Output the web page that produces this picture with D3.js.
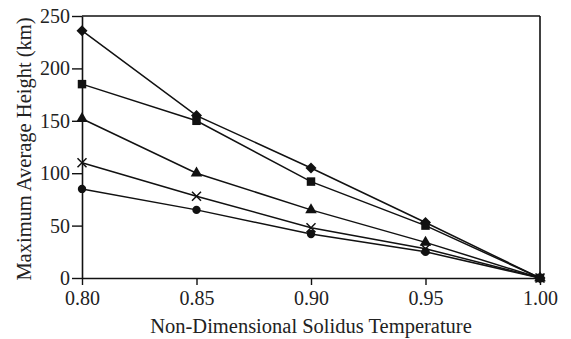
<!DOCTYPE html>
<html>
<head>
<meta charset="utf-8">
<script src="https://cdn.jsdelivr.net/npm/d3@7"></script>
<style>
  body { margin: 0; background: #fff; }
  text { font-family: "Liberation Serif", "Times New Roman", serif; fill: #222; }
</style>
</head>
<body>
<script>
// dimensions
const width = 571;
const height = 339;

const margin = { top: 16, right: 31, bottom: 61, left: 82 };

// chart data
const temps = [0.80, 0.85, 0.90, 0.95, 1.00];
const diamondSeries = [236, 155, 105, 53, 0];
const squareSeries = [185, 150, 92, 50, 0];
const triangleSeries = [152, 100, 65, 34, 0];
const crossSeries = [110, 78, 48, 28, 0];
const circleSeries = [85, 65, 42, 25, 0];
const xTicks = [0.80, 0.85, 0.90, 0.95, 1.00];
const yTicks = [0, 50, 100, 150, 200, 250];

const series = [
    { values: diamondSeries, shape: "diamond" },
    { values: squareSeries, shape: "square" },
    { values: triangleSeries, shape: "triangle" },
    { values: crossSeries, shape: "cross" },
    { values: circleSeries, shape: "circle" }
];

let svg = d3.select("body")
    .append("svg")
    .attr("width", width)
    .attr("height", height);

let x = d3.scaleLinear()
    .domain([0.80, 1.00])
    .range([margin.left, width - margin.right]);
let y = d3.scaleLinear()
    .domain([0, 250])
    .range([height - margin.bottom, margin.top]);

const ink = "#111";

// frame (top and right lines)
svg.append("line")
    .attr("x1", x(0.80)).attr("x2", x(1.00))
    .attr("y1", y(250)).attr("y2", y(250))
    .attr("stroke", ink).attr("stroke-width", 1.6);
svg.append("line")
    .attr("x1", x(1.00)).attr("x2", x(1.00))
    .attr("y1", y(250)).attr("y2", y(0))
    .attr("stroke", ink).attr("stroke-width", 1.6);

// axes
let xAxis = svg.append("g")
    .attr("transform", "translate(0," + y(0) + ")")
    .call(d3.axisBottom(x).tickValues(xTicks).tickFormat(d3.format(".2f"))
        .tickSizeInner(7).tickSizeOuter(0).tickPadding(6));
let yAxis = svg.append("g")
    .attr("transform", "translate(" + x(0.80) + ",0)")
    .call(d3.axisLeft(y).tickValues(yTicks).tickSizeInner(10).tickSizeOuter(0).tickPadding(2));

[xAxis, yAxis].forEach(function(a) {
    a.select(".domain").attr("stroke", ink).attr("stroke-width", 1.6);
    a.selectAll(".tick line").attr("stroke", ink).attr("stroke-width", 1.4);
    a.selectAll(".tick text")
        .attr("fill", "#222")
        .style("font-family", '"Liberation Serif", serif')
        .style("font-size", "20px");
});

// axis titles
svg.append("text")
    .attr("x", (x(0.80) + x(1.00)) / 2)
    .attr("y", 333)
    .attr("text-anchor", "middle")
    .style("font-size", "20.5px")
    .text("Non-Dimensional Solidus Temperature");
svg.append("text")
    .attr("transform", "translate(31," + ((y(0) + y(250)) / 2 + 2) + ") rotate(-90)")
    .attr("text-anchor", "middle")
    .style("font-size", "20.5px")
    .text("Maximum Average Height (km)");

let line = d3.line()
    .x(function(d, i) { return x(temps[i]); })
    .y(function(d) { return y(d); });

// lines
series.forEach(function(s) {
    svg.append("path")
        .attr("d", line(s.values))
        .attr("fill", "none")
        .attr("stroke", ink)
        .attr("stroke-width", 1.5);
});

// markers
const symbolFor = {
    diamond: "M0,-5.5L5.5,0L0,5.5L-5.5,0Z",
    square: d3.symbol().type(d3.symbolSquare).size(72)(),
    triangle: d3.symbol().type(d3.symbolTriangle).size(58)(),
    circle: d3.symbol().type(d3.symbolCircle).size(55)()
};

series.forEach(function(s) {
    let g = svg.append("g");
    s.values.forEach(function(v, i) {
        let px = x(temps[i]);
        let py = y(v);
        if (s.shape === "cross") {
            g.append("path")
                .attr("d", "M-4.5,-4.5L4.5,4.5M-4.5,4.5L4.5,-4.5")
                .attr("transform", "translate(" + px + "," + py + ")")
                .attr("stroke", ink)
                .attr("stroke-width", 1.5)
                .attr("fill", "none");
        } else {
            g.append("path")
                .attr("d", symbolFor[s.shape])
                .attr("transform", "translate(" + px + "," + py + ")")
                .attr("fill", ink);
        }
    });
});
</script>
</body>
</html>
